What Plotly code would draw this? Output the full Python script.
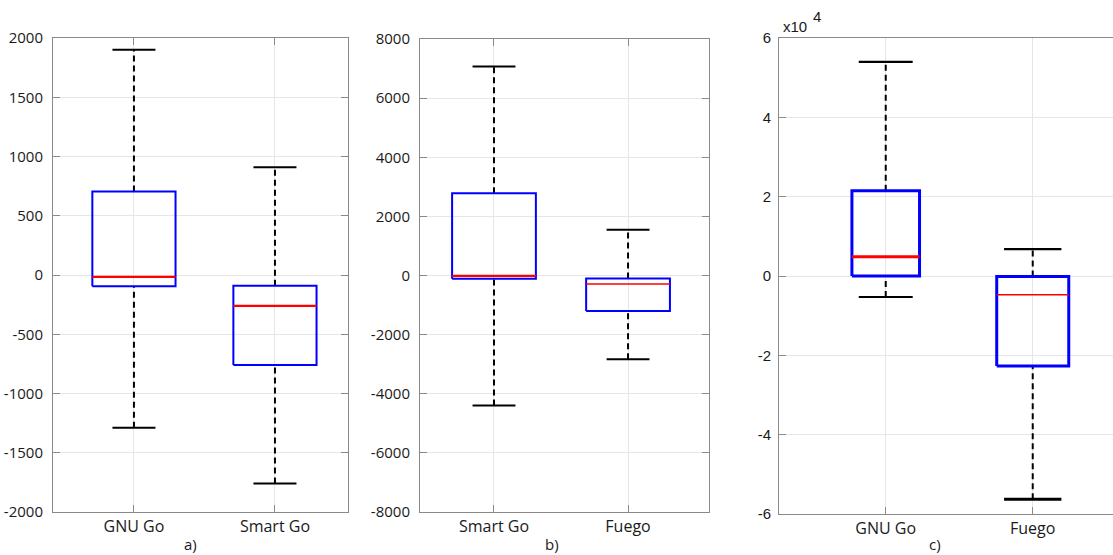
import plotly.graph_objects as go

# ---- data ----
cats_a = ["GNU Go", "Smart Go"]
a_upper = [1900, 910]
a_q3 = [705, -90]
a_med = [-15, -260]
a_q1 = [-95, -760]
a_lower = [-1290, -1760]

cats_b = ["Smart Go", "Fuego"]
b_upper = [7070, 1550]
b_q3 = [2780, -100]
b_med = [-10, -290]
b_q1 = [-110, -1200]
b_lower = [-4400, -2830]

cats_c = ["GNU Go", "Fuego"]
c_upper = [54000, 6800]
c_q3 = [21500, -100]
c_med = [4850, -4700]
c_q1 = [0, -22700]
c_lower = [-5300, -56300]
c_scale = 1e4

ticks_a = [-2000, -1500, -1000, -500, 0, 500, 1000, 1500, 2000]
ticks_b = [-8000, -6000, -4000, -2000, 0, 2000, 4000, 6000, 8000]
ticks_c = [-6, -4, -2, 0, 2, 4, 6]

W, H = 1113, 555
fig = go.Figure()

BLUE = "#0000ff"
RED = "#ff0000"


def add_box(xa, ya, pos, lo, q1, med, q3, hi, bw, cw, lw_box, lw_med, lw_cap_hi, lw_cap_lo):
    common = dict(xaxis=xa, yaxis=ya, mode="lines", showlegend=False, hoverinfo="skip")
    fig.add_trace(go.Scatter(x=[pos, pos], y=[q3, hi], line=dict(color="black", width=2, dash="6px,4px"), **common))
    fig.add_trace(go.Scatter(x=[pos, pos], y=[lo, q1], line=dict(color="black", width=2, dash="6px,4px"), **common))
    fig.add_trace(go.Scatter(x=[pos - cw / 2, pos + cw / 2], y=[hi, hi], line=dict(color="black", width=lw_cap_hi), **common))
    fig.add_trace(go.Scatter(x=[pos - cw / 2, pos + cw / 2], y=[lo, lo], line=dict(color="black", width=lw_cap_lo), **common))
    fig.add_trace(go.Scatter(x=[pos - bw / 2, pos + bw / 2, pos + bw / 2, pos - bw / 2, pos - bw / 2],
                             y=[q1, q1, q3, q3, q1], line=dict(color=BLUE, width=lw_box), **common))
    fig.add_trace(go.Scatter(x=[pos - bw / 2, pos + bw / 2], y=[med, med], line=dict(color=RED, width=lw_med), **common))


for i in range(2):
    add_box("x", "y", i + 1, a_lower[i], a_q1[i], a_med[i], a_q3[i], a_upper[i],
            0.59, 0.305, 2, 2.2, 2, 2)
for i in range(2):
    add_box("x2", "y2", i + 1, b_lower[i], b_q1[i], b_med[i], b_q3[i], b_upper[i],
            0.625, 0.32, 2, [2.2, 1.5][i], 2, 2)
for i in range(2):
    add_box("x3", "y3", i + 1, c_lower[i] / c_scale, c_q1[i] / c_scale, c_med[i] / c_scale,
            c_q3[i] / c_scale, c_upper[i] / c_scale,
            [0.46, 0.49][i], [0.367, 0.39][i], 3, [3, 1.5][i], 2.2, [2.2, 3][i])

FONT = "Open Sans, Segoe UI, sans-serif"
ARIAL = "Liberation Sans, Arial, sans-serif"
AXC = "#8a8a8a"
GRID = "#e6e6e6"
TXT = "#1a1a1a"


def xaxis(domain, rng, cats, anchor, mirror="allticks"):
    return dict(domain=domain, range=rng, anchor=anchor, tickvals=[1, 2], ticktext=cats,
                showline=True, linecolor=AXC, linewidth=1, mirror=mirror,
                ticks="inside", ticklen=7, tickcolor=AXC, automargin=False,
                showgrid=True, gridcolor=GRID, gridwidth=1, zeroline=False,
                tickfont=dict(family=FONT, size=16, color=TXT), fixedrange=True)


def yaxis(domain, rng, tv, anchor, mirror="allticks", font=FONT, size=15, standoff=6):
    return dict(domain=domain, range=rng, anchor=anchor, tickvals=tv, ticktext=[str(v) for v in tv],
                showline=True, linecolor=AXC, linewidth=1, mirror=mirror,
                ticks="inside", ticklen=7, tickcolor=AXC, automargin=False,
                ticklabelstandoff=standoff,
                showgrid=True, gridcolor=GRID, gridwidth=1, zeroline=False,
                tickfont=dict(family=font, size=size, color=TXT), fixedrange=True)


fig.update_layout(
    template="none",
    width=W, height=H,
    margin=dict(l=0, r=0, t=0, b=0, pad=0, autoexpand=False),
    paper_bgcolor="white", plot_bgcolor="white",
    xaxis=xaxis([53 / W, 348 / W], [0.426, 2.518], cats_a, "y"),
    yaxis=yaxis([1 - 512 / H, 1 - 38 / H], [-2000, 2000], ticks_a, "x"),
    xaxis2=xaxis([420 / W, 709 / W], [0.448, 2.604], cats_b, "y2"),
    yaxis2=yaxis([1 - 512 / H, 1 - 39 / H], [-8000, 8000], ticks_b, "x2"),
    xaxis3=xaxis([779 / W, 1.0], [0.274, 2.546], cats_c, "y3", mirror=True),
    yaxis3=yaxis([1 - 514 / H, 1 - 38 / H], [-6, 6], ticks_c, "x3", mirror=False,
                 font=ARIAL, size=15, standoff=4),
)

ann_font = dict(family=FONT, size=15, color=TXT)
for txt, xp in [("a)", 190), ("b)", 552), ("c)", 935)]:
    fig.add_annotation(text=txt, x=xp / W, y=1 - 544 / H, xref="paper", yref="paper",
                       showarrow=False, xanchor="center", yanchor="middle", font=ann_font)

fig.add_annotation(text="x10", x=781 / W, y=1 - 27 / H, xref="paper", yref="paper", showarrow=False,
                   xanchor="left", yanchor="middle", font=dict(family=ARIAL, size=15, color=TXT))
fig.add_annotation(text="4", x=811 / W, y=1 - 16 / H, xref="paper", yref="paper", showarrow=False,
                   xanchor="left", yanchor="middle", font=dict(family=ARIAL, size=15, color=TXT))

fig.write_html("out.html")
